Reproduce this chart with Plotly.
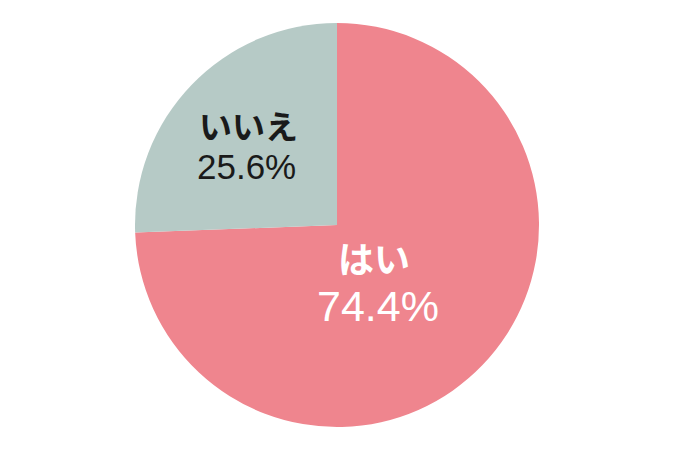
import plotly.graph_objects as go

labels = ["はい", "いいえ"]
values = [74.4, 25.6]
colors = ["#EF858E", "#B6CAC6"]

W, H = 680, 453
OFF = 8  # page body margin in the browser


def px_x(x):
    return (x - OFF) / W


def px_y(y):
    return 1 - (y - OFF) / H


fig = go.Figure()
fig.add_trace(
    go.Pie(
        labels=labels,
        values=values,
        sort=False,
        direction="clockwise",
        rotation=0,
        textinfo="none",
        hoverinfo="label+percent",
        marker=dict(colors=colors, line=dict(width=0)),
        domain=dict(x=[px_x(135), px_x(539)], y=[px_y(427), px_y(23)]),
        showlegend=False,
    )
)

font_family = "Liberation Sans, Noto Sans CJK JP, sans-serif"

# label text placed by hand like the original graphic
label_pos = {
    "はい": dict(name=(374, 257), pct=(378, 306), color="white", size=(36, 43)),
    "いいえ": dict(name=(248, 125), pct=(247, 166), color="#1a1a1a", size=(33, 35)),
}

for lab, val in zip(labels, values):
    p = label_pos[lab]
    fig.add_annotation(
        x=px_x(p["name"][0]), y=px_y(p["name"][1]), xref="paper", yref="paper",
        xanchor="center", yanchor="middle",
        text="<b>" + lab + "</b>", showarrow=False,
        font=dict(family="Noto Sans CJK JP", size=p["size"][0], color=p["color"]),
    )
    fig.add_annotation(
        x=px_x(p["pct"][0]), y=px_y(p["pct"][1]), xref="paper", yref="paper",
        xanchor="center", yanchor="middle",
        text=f"{val}%", showarrow=False,
        font=dict(family=font_family, size=p["size"][1], color=p["color"]),
    )

fig.update_layout(
    width=W,
    height=H,
    margin=dict(l=0, r=0, t=0, b=0),
    paper_bgcolor="white",
    plot_bgcolor="white",
)

fig.write_html("out.html")
